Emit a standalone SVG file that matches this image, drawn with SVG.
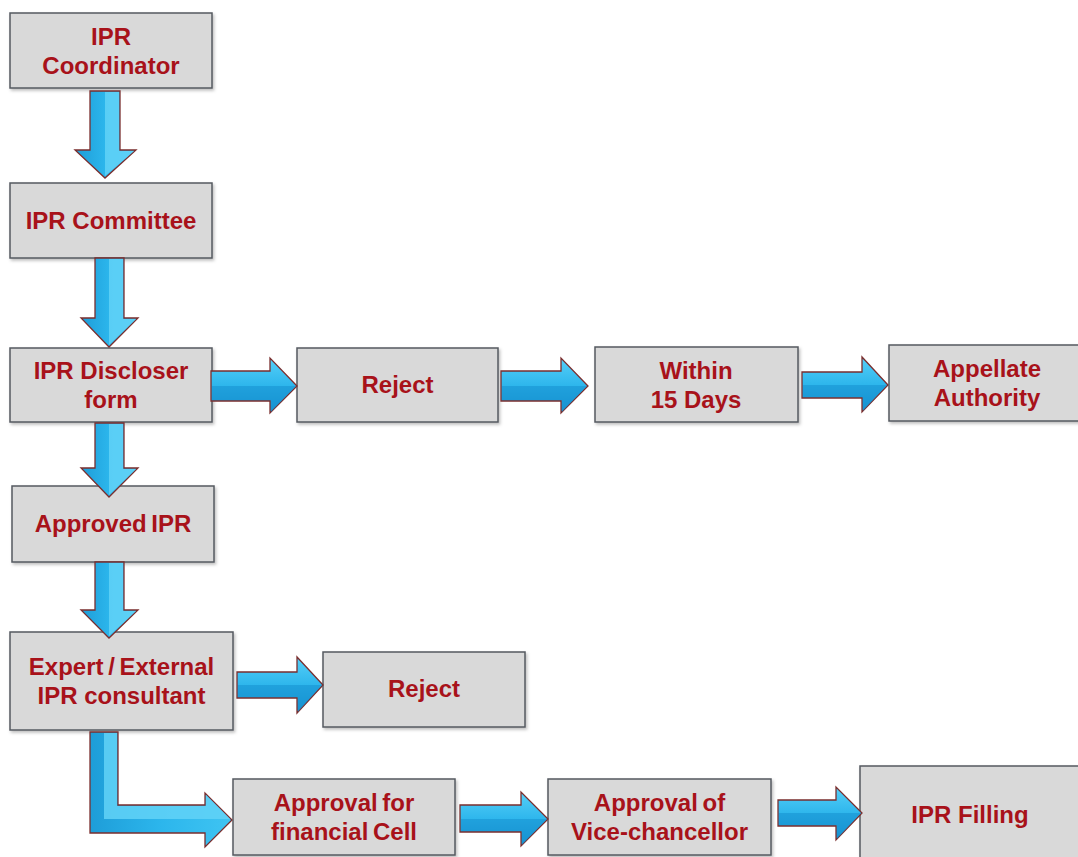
<svg xmlns="http://www.w3.org/2000/svg" width="1078" height="857" viewBox="0 0 1078 857">
<defs>
<style>
.box{fill:#D9D9D9;stroke:#555A60;stroke-width:1.5}
.t{font-family:"Liberation Sans",Arial,sans-serif;font-weight:bold;font-size:24px;fill:#A8121A;text-anchor:middle}
.ab{fill:url(#gb);stroke:#7A2E2E;stroke-width:1.3;stroke-linejoin:miter}
.ar{fill:url(#gr);stroke:#7A2E2E;stroke-width:1.3;stroke-linejoin:miter}
.hl{fill:#62D2F7;opacity:0.85}
.dk{fill:#1590CF;opacity:0.55}
</style>
<linearGradient id="gb" x1="0" y1="0" x2="1" y2="0">
<stop offset="0" stop-color="#1E9DD8"/>
<stop offset="0.5" stop-color="#2CB6EC"/>
<stop offset="1" stop-color="#3FC4F2"/>
</linearGradient>
<linearGradient id="gr" x1="0" y1="0" x2="0" y2="1">
<stop offset="0" stop-color="#55CFF8"/>
<stop offset="0.5" stop-color="#2EB6EC"/>
<stop offset="1" stop-color="#1795D3"/>
</linearGradient>
<filter id="sh" x="-5%" y="-5%" width="110%" height="115%">
<feDropShadow dx="1.5" dy="2" stdDeviation="1.5" flood-color="#000" flood-opacity="0.25"/>
</filter>
</defs>
<rect width="1078" height="857" fill="#FFFFFF"/>

<g id="n1"><rect class="box" x="10" y="13" width="202" height="75" filter="url(#sh)"/><text class="t" x="111" y="45">IPR</text><text class="t" x="111" y="74">Coordinator</text></g>
<g id="n2"><rect class="box" x="10" y="183" width="202" height="75" filter="url(#sh)"/><text class="t" x="111" y="229">IPR Committee</text></g>
<g id="n3"><rect class="box" x="10" y="348" width="202" height="74" filter="url(#sh)"/><text class="t" x="111" y="379">IPR Discloser</text><text class="t" x="111" y="408">form</text></g>
<g id="n4"><rect class="box" x="12" y="486" width="202" height="76" filter="url(#sh)"/><text class="t" x="113" y="532" word-spacing="-2">Approved IPR</text></g>
<g id="n5"><rect class="box" x="10" y="632" width="223" height="98" filter="url(#sh)"/><text class="t" x="121.5" y="675" word-spacing="-2">Expert / External</text><text class="t" x="121.5" y="704">IPR consultant</text></g>
<g id="n6"><rect class="box" x="297" y="348" width="201" height="74" filter="url(#sh)"/><text class="t" x="397.5" y="393">Reject</text></g>
<g id="n7"><rect class="box" x="595" y="347" width="203" height="75" filter="url(#sh)"/><text class="t" x="696" y="379">Within</text><text class="t" x="696" y="408">15 Days</text></g>
<g id="n8"><rect class="box" x="889" y="345" width="192" height="76" filter="url(#sh)"/><text class="t" x="987" y="377">Appellate</text><text class="t" x="987" y="406">Authority</text></g>
<g id="n9"><rect class="box" x="323" y="652" width="202" height="75" filter="url(#sh)"/><text class="t" x="424" y="697">Reject</text></g>
<g id="n10"><rect class="box" x="233" y="779" width="222" height="76" filter="url(#sh)"/><text class="t" x="344" y="811" word-spacing="-2">Approval for</text><text class="t" x="344" y="840" word-spacing="-2">financial Cell</text></g>
<g id="n11"><rect class="box" x="548" y="779" width="223" height="76" filter="url(#sh)"/><text class="t" x="659.5" y="811" word-spacing="-2">Approval of</text><text class="t" x="659.5" y="840">Vice-chancellor</text></g>
<g id="n12"><rect class="box" x="860" y="766" width="221" height="94" filter="url(#sh)"/><text class="t" x="970" y="823">IPR Filling</text></g>

<g id="connectors">
<g>
<polygon class="ab" points="90,91 120,91 120,150 136,150 105,178 75,150 90,150"/>
<polygon class="hl" points="105,92 119,92 119,151 134,151 105,176"/>
</g>
<g>
<polygon class="ab" points="95,258 124,258 124,318 138,318 109,347 81,318 95,318"/>
<polygon class="hl" points="109,259 123,259 123,319 136,319 109,345"/>
</g>
<g>
<polygon class="ab" points="95,423 124,423 124,468 138,468 109,497 81,468 95,468"/>
<polygon class="hl" points="109,424 123,424 123,469 136,469 109,495"/>
</g>
<g>
<polygon class="ab" points="95,562 124,562 124,610 138,610 109,638 81,610 95,610"/>
<polygon class="hl" points="109,563 123,563 123,611 136,611 109,636"/>
</g>
<g>
<polygon class="ar" points="211,371 270,371 270,358 297,386 270,413 270,401 211,401"/>
<polygon class="dk" points="212,386 296,386 271,412 271,400 212,400"/>
</g>
<g>
<polygon class="ar" points="501,371 561,371 561,358 588,386 561,413 561,401 501,401"/>
<polygon class="dk" points="502,386 587,386 562,412 562,400 502,400"/>
</g>
<g>
<polygon class="ar" points="802,372 862,372 862,357 888,385 862,412 862,398 802,398"/>
<polygon class="dk" points="803,385 887,385 863,411 863,397 803,397"/>
</g>
<g>
<polygon class="ar" points="237,672 297,672 297,657 323,685 297,713 297,698 237,698"/>
<polygon class="dk" points="238,685 322,685 298,712 298,697 238,697"/>
</g>
<g>
<polygon class="ar" points="460,805 521,805 521,792 548,819 521,846 521,832 460,832"/>
<polygon class="dk" points="461,819 547,819 522,845 522,831 461,831"/>
</g>
<g>
<polygon class="ar" points="778,800 836,800 836,787 862,813 836,840 836,826 778,826"/>
<polygon class="dk" points="779,813 861,813 837,839 837,825 779,825"/>
</g>
<g>
<polygon class="ab" points="90,732 118,732 118,805 205,805 205,793 232,820 205,847 205,833 90,833"/>
<polygon class="hl" points="104,733 117,733 117,806 206,806 206,795 230,819 104,819"/>
</g>
</g>
</svg>
